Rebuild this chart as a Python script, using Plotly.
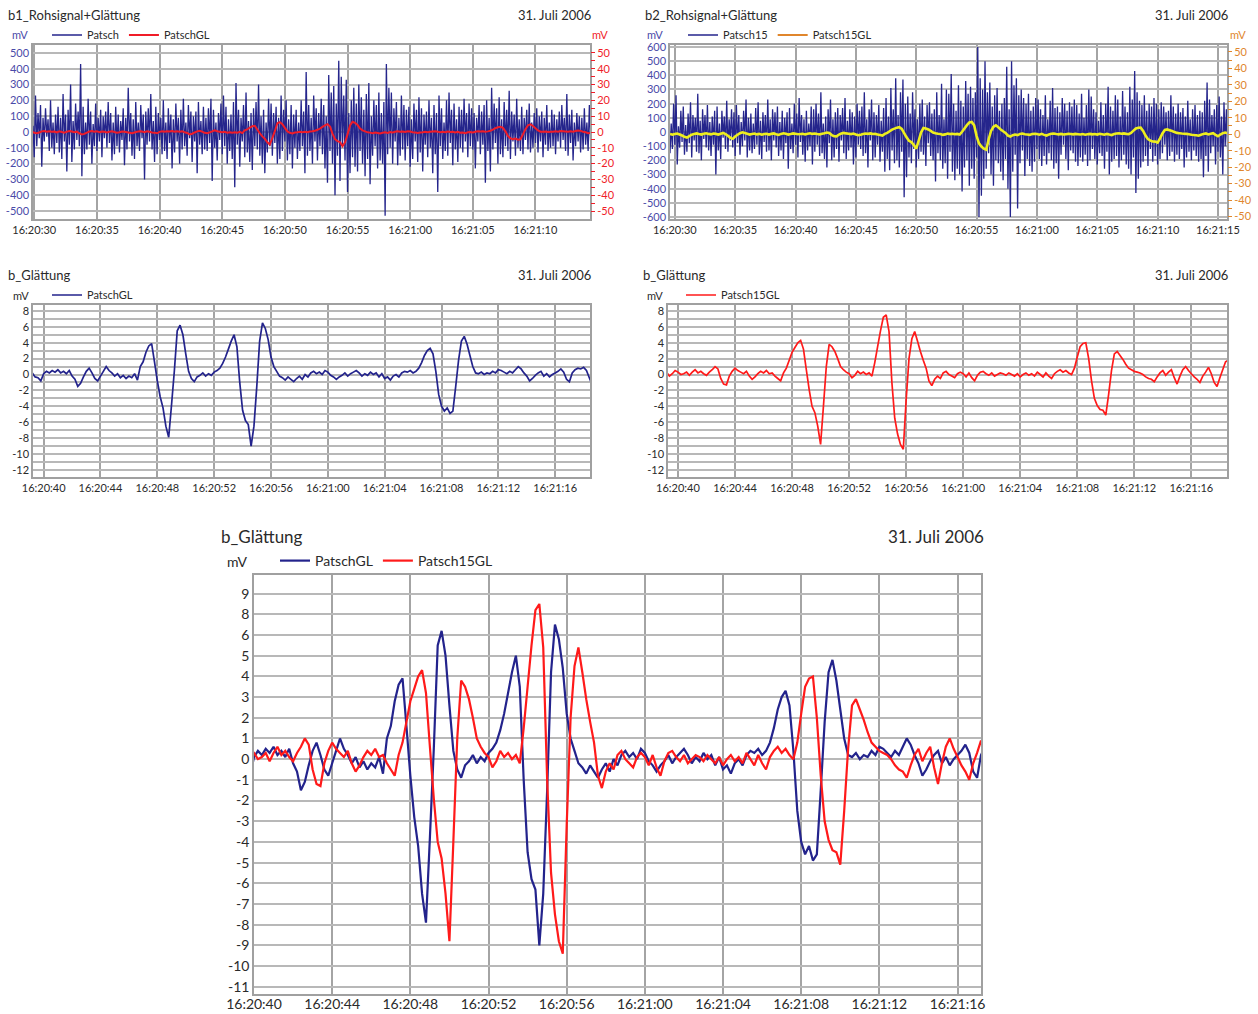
import plotly.graph_objects as go
import pandas as pd

FONT = "Lato"

# ---------------- smoothed data (0.2 s steps) ----------------
GL_START = "2006-07-31 16:20:29.6"
patsch_gl = [
    -0.2, 0.3, -0.5, -0.8, -0.3, 0.4, 0.6, 0.2, 0.5, 0.1,
    0.3, -0.2, 0.4, 0.0, -0.4, 0.2, 0.6, 0.3, -0.1, 0.2,
    -0.8, -1.5, -1.2, -0.4, 0.3, 0.6, 0.2, 0.4, -0.1, 0.3,
    0.1, -0.3, 0.2, 0.5, 0.0, -0.4, -0.2, 0.3, 0.1, -0.2,
    -0.5, -0.8, -0.3, 0.2, 0.5, 0.3, -0.1, 0.4, 0.2, -0.3,
    -0.4, -0.8, 0.1, 0.4, 0.2, 0.5, 0.3, 0.6, 0.2, 0.4,
    0.1, 0.5, -0.2, -0.6, -1.5, -1.1, -0.3, 0.4, 0.8, 0.2,
    -0.5, -0.8, -0.2, 0.4, 1.0, 0.5, 0.2, -0.2, 0.1, -0.4,
    -0.1, -0.5, -0.2, -0.4, 0.1, -0.7, 1.0, 1.6, 2.8, 3.6,
    3.9, 1.6, -0.8, -2.8, -4.2, -6.5, -7.9, -3.8, 0.5, 5.5,
    6.2, 5.0, 2.6, 0.4, -0.5, -0.9, -0.3, -0.1, 0.2, -0.2,
    0.1, -0.1, 0.3, 0.5, 0.8, 1.4, 2.2, 3.2, 4.2, 5.0,
    3.5, -1.0, -4.5, -5.8, -6.3, -9.0, -6.5, -1.5, 4.2, 6.5,
    5.8, 4.4, 2.2, 1.0, 0.4, -0.2, -0.4, -0.7, -0.3, -0.6,
    -0.9, -0.5, -0.2, -0.6, 0.0, -0.3, 0.2, 0.4, 0.1, 0.3,
    0.0, 0.5, 0.3, -0.1, -0.3, -0.6, -0.3, -0.1, 0.2, -0.2,
    0.1, 0.3, 0.5, 0.2, -0.2, 0.1, -0.1, 0.3, 0.0, 0.2,
    -0.3, 0.1, -0.5, -0.3, -0.7, -0.2, 0.0, -0.3, 0.2, 0.4,
    0.3, 0.5, 0.2, 0.4, 0.8, 1.5, 2.4, 3.0, 3.3, 2.6,
    0.4, -2.5, -4.0, -4.6, -4.2, -4.9, -4.6, -1.5, 1.8, 4.2,
    4.8, 3.8, 2.4, 1.0, 0.2, 0.1, 0.3, 0.0, 0.2, 0.1,
    0.4, 0.2, 0.6, 0.5, 0.3, 0.1, 0.4, 0.2, 0.6, 1.0,
    0.7, 0.2, -0.2, -0.8, -0.5, -0.1, 0.2, 0.4, -0.2, 0.1,
    -0.3, 0.0, 0.2, 0.4, 0.7, 0.3, -0.6, -0.9, 0.2, 0.6,
    0.8, 0.7, 0.9, 0.5, -0.4, -1.3,
]
patsch15_gl = [
    0.2, -0.3, 0.1, 0.4, -0.2, -0.8, -1.6, -2.0, -1.1, -0.3,
    0.2, 0.5, 0.1, -0.2, 0.3, 0.6, 0.2, -0.1, 0.4, 0.2,
    -0.2, 0.3, 0.8, 0.1, -0.9, -2.2, -2.8, -1.4, -0.3, 0.6,
    1.2, 0.8, 0.3, -0.2, 0.1, 0.4, -0.1, 0.2, -0.3, 0.1,
    0.3, -0.2, 0.2, 0.5, 0.0, -0.4, 0.2, 0.6, 0.3, -0.2,
    0.1, 0.5, 0.3, 0.0, 0.1, 0.3, -0.1, 0.3, 0.6, 0.2,
    0.4, 0.1, -0.1, 0.3, 0.6, 1.0, 0.7, -0.5, -1.2, -1.3,
    -0.2, 0.4, 0.8, 0.5, 0.3, 0.1, 0.4, -0.2, -0.6, -0.3,
    0.1, 0.4, 0.2, 0.5, 0.1, 0.2, -0.2, -0.5, -0.8, 0.2,
    0.8, 1.8, 2.8, 3.4, 4.0, 4.3, 3.2, 0.6, -1.9, -4.0,
    -4.8, -6.5, -8.8, -4.0, 1.0, 3.8, 3.5, 2.9, 2.0, 1.0,
    0.6, 0.3, 0.1, -0.4, -0.1, 0.4, 0.1, 0.3, 0.0, 0.2,
    -0.2, 1.5, 3.5, 5.5, 7.2, 7.5, 5.4, -1.0, -5.5, -7.5,
    -8.8, -9.4, -3.2, 2.0, 4.5, 5.4, 4.2, 2.9, 1.8, 0.8,
    -0.8, -1.4, -0.6, -0.2, -0.5, 0.2, 0.4, 0.0, -0.2, -0.4,
    0.1, 0.3, 0.1, -0.3, 0.2, -0.4, -0.8, -0.1, 0.3, 0.4,
    0.1, -0.1, 0.2, -0.2, 0.0, 0.2, 0.1, -0.1, 0.2, 0.0,
    -0.2, 0.1, -0.3, 0.0, 0.2, -0.1, 0.1, -0.2, 0.3, 0.0,
    -0.3, 0.2, -0.2, -0.5, 0.1, 0.4, 0.6, 0.3, 0.5, 0.2,
    0.0, 0.8, 2.2, 3.5, 3.9, 4.0, 2.0, -0.8, -3.0, -3.9,
    -4.4, -4.5, -5.1, -2.5, 0.5, 2.6, 2.9, 2.4, 1.9, 1.3,
    0.8, 0.6, 0.4, 0.3, 0.2, 0.0, -0.3, -0.5, -0.6, -0.9,
    -0.3, 0.2, 0.5, -0.1, 0.3, 0.6, -0.4, -1.2, -0.2, 0.6,
    1.0, 0.5, 0.1, -0.3, -0.6, -1.0, -0.2, 0.3, 0.9, 0.1,
    -1.0, -1.5, -0.4, 0.6, 1.6, 1.8,
]

# ---------------- raw data (0.1 s steps) ----------------
RAW1_START = "2006-07-31 16:20:29.9"
patsch_raw = [
    40, -160, 230, -90, 120, -40, 170, -220, 90, -60, 150, -30, 80, -120, 200, -100, 60, -140, 110, -70,
    160, -130, 90, -170, 240, -60, 110, -250, 140, -80, 300, -190, 70, -110, 180, -50, 130, -90, 430, -280,
    160, -140, 60, -110, 210, -80, 130, -200, 50, -90, 180, -120, 90, -60, 140, -160, 100, -40, 130, -100,
    190, -70, 120, -180, 60, -140, 160, -90, 110, -130, 70, -50, 150, -210, 90, -110, 280, -60, 120, -150,
    80, -170, 190, -90, 60, -120, 170, -40, 110, -300, 130, -80, 150, -60, 240, -110, 70, -190, 160, -140,
    120, -50, 90, -140, 200, -120, 60, -170, 150, -70, 110, -230, 80, -130, 180, -60, 90, -200, 140, -110,
    210, -90, 60, -150, 170, -40, 130, -190, 100, -60, 130, -260, 190, -80, 70, -140, 160, -110, 90, -120,
    150, -70, 210, -310, 140, -100, 60, -180, 120, -50, 180, -140, 230, -90, 160, -200, 80, -120, 110, -170,
    190, -350, 310, -80, 140, -220, 90, -60, 170, -160, 250, -130, 70, -190, 120, -240, 150, -90, 190, -110,
    300, -150, 100, -200, 140, -260, 60, -130, 210, -90, 180, -150, 120, -70, 160, -200, 90, -170, 230, -120,
    140, -60, 200, -180, 80, -140, 170, -230, 110, -100, 140, -170, 60, -120, 200, -90, 130, -260, 380, -150,
    170, -120, 90, -200, 230, -60, 150, -180, 120, -90, 210, -140, 170, -230, 100, -320, 360, -120, 250, -200,
    290, -400, 180, -150, 450, -310, 350, -90, 230, -180, 330, -380, 120, -260, 200, -160, 280, -220, 180, -250,
    300, -120, 220, -200, 140, -280, 240, -170, 310, -330, 100, -150, 200, -90, 170, -230, 250, -180, 120, -200,
    190, -530, 430, -140, 280, -100, 250, -200, 150, -60, 190, -210, 90, -150, 230, -110, 170, -180, 140, -90,
    160, -220, 80, -170, 180, -60, 140, -190, 220, -130, 150, -250, 110, -80, 130, -160, 200, -100, 90, -260,
    170, -140, 120, -380, 230, -90, 150, -170, 60, -120, 200, -150, 250, -70, 140, -210, 180, -110, 80, -190,
    160, -100, 140, -130, 210, -60, 120, -160, 180, -90, 150, -110, 120, -230, 90, -60, 170, -140, 130, -80,
    170, -320, 200, -120, 90, -250, 280, -110, 180, -70, 150, -200, 220, -140, 80, -160, 190, -90, 140, -120,
    260, -170, 130, -60, 110, -150, 210, -100, 80, -120, 160, -140, 90, -50, 140, -110, 180, -130, 60, -100,
    120, -70, 150, -130, 100, -60, 130, -160, 90, -80, 170, -120, 60, -100, 140, -90, 110, -140, 80, -60,
    130, -100, 170, -50, 90, -120, 240, -150, 110, -70, 140, -180, 60, -90, 120, -60, 100, -130, 90, -110,
    150, -80, 60, -120, 170, -60,
]
RAW2_START = "2006-07-31 16:20:29.6"
patsch15_raw = [
    -150, 60, -120, 200, -90, 260, -230, 40, -110, 150, -70, 180, -160, 50, -140, 130, -80, 210, -180, 120,
    -60, 100, -140, 270, -150, 80, -200, 160, -50, 120, -110, 190, -130, 70, -170, 110, -90, 150, -300, 180,
    -130, 60, -190, 150, -40, 110, -120, 220, -140, 90, -60, 160, -110, 140, -170, 190, -80, 120, -160, 70,
    -100, 150, -60, 230, -180, 100, -130, 130, -150, 60, -120, 170, -90, 210, -160, 80, -190, 140, -70, 120,
    -140, 230, -130, 90, -200, 160, -60, 140, -110, 180, -170, 70, -130, 150, -190, 100, -80, 140, -260, 170,
    -120, 60, -150, 200, -90, 130, -180, 240, -70, 120, -160, 90, -210, 150, -130, 60, -100, 180, -230, 160,
    -140, 200, -90, 130, -170, 280, -150, 60, -190, 110, -250, 160, -80, 230, -200, 90, -180, 140, -120, 170,
    -210, 120, -60, 170, -150, 240, -190, 80, -130, 160, -110, 140, -230, 110, -180, 200, -90, 150, -120, 180,
    -170, 280, -150, 90, -250, 160, -60, 230, -200, 140, -180, 120, -90, 190, -210, 80, -140, 170, -280, 240,
    -190, 110, -270, 310, -130, 160, -220, 380, -200, 120, -250, 280, -140, 370, -460, 200, -320, 250, -180, 130,
    -220, 280, -120, 160, -250, 90, -190, 200, -140, 230, -160, 110, -240, 190, -80, 210, -170, 130, -200, 160,
    -350, 280, -150, 120, -200, 340, -260, 90, -220, 300, -330, 270, -140, 410, -280, 200, -340, 150, -260, 330,
    -300, 220, -420, 180, -250, 360, -200, 270, -380, 320, -260, 240, -330, 280, -180, 600, -600, 380, -450, 300,
    -330, 500, -260, 280, -150, 350, -300, 180, -380, 260, -200, 310, -220, 150, -280, 200, -340, 240, -190, 460,
    -400, 160, -600, 500, -280, 330, -160, 380, -540, 260, -220, 300, -130, 240, -310, 200, -190, 270, -240, 150,
    -280, 180, -210, 240, -120, 230, -190, 160, -240, 120, -170, 260, -230, 90, -150, 220, -200, 310, -260, 170,
    -220, 180, -330, 140, -160, 240, -90, 200, -190, 150, -270, 210, -130, 180, -150, 230, -210, 190, -240, 130,
    -180, 270, -210, 100, -160, 190, -240, 300, -200, 250, -120, 160, -190, 140, -230, 80, -150, 210, -170, 120,
    -260, 200, -140, 320, -300, 180, -210, 150, -190, 260, -170, 230, -250, 110, -200, 290, -160, 180, -230, 140,
    -260, 320, -300, 230, -180, 430, -430, 280, -330, 220, -250, 190, -210, 260, -170, 150, -240, 200, -120, 180,
    -210, 240, -170, 200, -230, 160, -190, 210, -150, 180, -90, 140, -200, 150, -170, 260, -140, 180, -210, 130,
    -160, 200, -190, 140, -120, 170, -250, 110, -180, 220, -140, 90, -200, 160, -130, 190, -170, 120, -210, 150,
    -190, 140, -320, 220, -170, 350, -280, 230, -150, 120, -100, 160, -230, 190, -140, 250, -180, 110, -300, 210,
    -100, 160, -120,
]

# ---------------- tick values / labels ----------------
top_left_yticks = [-500, -400, -300, -200, -100, 0, 100, 200, 300, 400, 500]
top_right_yticks = [-600, -500, -400, -300, -200, -100, 0, 100, 200, 300, 400, 500, 600]
right_yticks = [-50, -45, -40, -35, -30, -25, -20, -15, -10, -5, 0, 5, 10, 15, 20, 25, 30, 35, 40, 45, 50]
mid_yticks = [-12, -11, -10, -9, -8, -7, -6, -5, -4, -3, -2, -1, 0, 1, 2, 3, 4, 5, 6, 7, 8]
bottom_ytick_vals = [-11, -10, -9, -8, -7, -6, -5, -4, -3, -2, -1, 0, 1, 2, 3, 4, 5, 6, 7, 8]
bottom_ytick_text = ["-11", "-10", "-9", "-8", "-7", "-6", "-5", "-4", "-3", "-2", "-1",
                     "0", "1", "2", "3", "4", "5", "6", "8", "9"]

DATE_TEXT = "31. Juli 2006"


def labels(vals, every):
    return [str(v) if v % every == 0 else "" for v in vals]


def times(start, n, step):
    return pd.date_range(start=start, periods=n, freq=step)


t_gl = times(GL_START, len(patsch_gl), "200ms")
t_raw1 = times(RAW1_START, len(patsch_raw), "100ms")
t_raw2 = times(RAW2_START, len(patsch15_raw), "100ms")

NAVY = "#23238c"
RAWBLUE = "#25258c"
RED = "#f01c28"
RED2 = "#ff1a1a"
YELLOW = "#eeee1e"
ORANGE = "#e0862c"
TICKBLUE = "#4a4aa8"
GRID = "#b8b8b8"
VGRID = "#a4a4a4"
BORDER = "#a0a0a0"
TXT = "#2a2a2a"

W, H = 1258, 1014


def px(x):
    return x / W


def py(y):
    return 1 - y / H


fig = go.Figure()

# top-left
fig.add_trace(go.Scatter(x=t_raw1, y=patsch_raw, mode="lines", name="Patsch",
                         line=dict(color=RAWBLUE, width=1.3, simplify=False),
                         xaxis="x", yaxis="y", legend="legend"))
fig.add_trace(go.Scatter(x=t_gl, y=patsch_gl, mode="lines", name="PatschGL",
                         line=dict(color=RED, width=2, simplify=False),
                         xaxis="x", yaxis="y2", legend="legend"))
# top-right
fig.add_trace(go.Scatter(x=t_raw2, y=patsch15_raw, mode="lines", name="Patsch15",
                         line=dict(color=RAWBLUE, width=1.3, simplify=False),
                         xaxis="x2", yaxis="y3", legend="legend2"))
fig.add_trace(go.Scatter(x=t_gl, y=patsch15_gl, mode="lines", name="Patsch15GL",
                         line=dict(color=YELLOW, width=2.6, simplify=False), xaxis="x2", yaxis="y4",
                         showlegend=False))
fig.add_trace(go.Scatter(x=[None], y=[None], mode="lines", name="Patsch15GL",
                         line=dict(color=ORANGE, width=2), xaxis="x2", yaxis="y4", legend="legend2"))
# middle-left
fig.add_trace(go.Scatter(x=t_gl, y=patsch_gl, mode="lines", name="PatschGL",
                         line=dict(color=NAVY, width=1.7, simplify=False),
                         xaxis="x3", yaxis="y5", legend="legend3"))
# middle-right
fig.add_trace(go.Scatter(x=t_gl, y=patsch15_gl, mode="lines", name="Patsch15GL",
                         line=dict(color=RED2, width=1.7, simplify=False),
                         xaxis="x4", yaxis="y6", legend="legend4"))
# bottom
fig.add_trace(go.Scatter(x=t_gl, y=patsch_gl, mode="lines", name="PatschGL",
                         line=dict(color=NAVY, width=2.2, simplify=False),
                         xaxis="x5", yaxis="y7", legend="legend5"))
fig.add_trace(go.Scatter(x=t_gl, y=patsch15_gl, mode="lines", name="Patsch15GL",
                         line=dict(color=RED2, width=2.2, simplify=False),
                         xaxis="x5", yaxis="y7", legend="legend5"))


def xax(domain, anchor, rng, tick0, dtick, size=11, standoff=0):
    return dict(domain=domain, anchor=anchor, type="date", range=rng, tick0=tick0, dtick=dtick,
                tickformat="%H:%M:%S", showgrid=True, gridcolor=VGRID, gridwidth=1.5,
                showline=True, mirror=True, linecolor=BORDER, linewidth=1.5, ticks="",
                automargin=False, ticklabelstandoff=standoff,
                tickfont=dict(family=FONT, size=size, color=TXT), zeroline=False)


def yax(domain, anchor, rng, vals, text, color=TXT, size=11):
    return dict(domain=domain, anchor=anchor, range=rng, tickmode="array", tickvals=vals,
                ticktext=text, showgrid=True,
                gridcolor=GRID, gridwidth=1.5, showline=True, mirror=True, linecolor=BORDER,
                linewidth=1.5, ticks="", zeroline=False, automargin=False,
                tickfont=dict(family=FONT, size=size, color=color))


def yright(overlay, anchor, rng, color):
    return dict(overlaying=overlay, anchor=anchor, side="right", range=rng, tickmode="array",
                tickvals=right_yticks, ticktext=labels(right_yticks, 10),
                showgrid=False, zeroline=False, showline=False, ticks="outside", ticklen=4,
                tickcolor=color, tickwidth=1, automargin=False,
                tickfont=dict(family=FONT, size=11, color=color))


D = "2006-07-31 "
top_y = [py(219), py(45)]
mid_y = [py(477), py(305)]

layout = dict(
    width=W, height=H, margin=dict(l=0, r=0, t=0, b=0, autoexpand=False),
    paper_bgcolor="white", plot_bgcolor="white",
    font=dict(family=FONT, color=TXT),
    xaxis=xax([px(33), px(590)], "y", [D + "16:20:29.9", D + "16:21:14.35"], D + "16:20:30", 5000),
    yaxis=yax(top_y, "x", [-550, 550], top_left_yticks, labels(top_left_yticks, 100), color=TICKBLUE),
    yaxis2=yright("y", "x", [-55, 55], RED),
    xaxis2=xax([px(670), px(1227)], "y3", [D + "16:20:29.6", D + "16:21:15.75"], D + "16:20:30", 5000),
    yaxis3=yax(top_y, "x2", [-614, 614], top_right_yticks, labels(top_right_yticks, 100),
               color=TICKBLUE),
    yaxis4=yright("y3", "x2", [-51.5, 54.2], ORANGE),
    xaxis3=xax([px(33), px(590)], "y5", [D + "16:20:39.25", D + "16:21:18.45"], D + "16:20:40", 4000),
    yaxis5=yax(mid_y, "x3", [-12.9, 8.75], mid_yticks, labels(mid_yticks, 2)),
    xaxis4=xax([px(668), px(1227)], "y6", [D + "16:20:39.3", D + "16:21:18.5"], D + "16:20:40", 4000),
    yaxis6=yax(mid_y, "x4", [-12.9, 8.75], mid_yticks, labels(mid_yticks, 2)),
    xaxis5=xax([px(254), px(981)], "y7", [D + "16:20:40", D + "16:21:17.2"], D + "16:20:40", 4000,
               size=14, standoff=-4),
    yaxis7=yax([py(994), py(575)], "x5", [-11.35, 8.9], bottom_ytick_vals, bottom_ytick_text,
               size=14),
    showlegend=True,
)


def leg(x, y, size=11):
    return dict(x=px(x), y=py(y), xanchor="left", yanchor="middle", orientation="h",
                bgcolor="rgba(0,0,0,0)", font=dict(family=FONT, size=size, color=TXT),
                itemwidth=30, tracegroupgap=0)


layout["legend"] = leg(47, 35)
layout["legend2"] = leg(683, 35)
layout["legend3"] = leg(47, 295)
layout["legend4"] = leg(681, 295)
layout["legend5"] = leg(275, 561, size=14)

ann = []


def text(x, y, s, size, color=TXT, anchor="left"):
    ann.append(dict(x=px(x), y=py(y), xref="paper", yref="paper", text=s, showarrow=False,
                    xanchor=anchor, yanchor="middle",
                    font=dict(family=FONT, size=size, color=color)))


# titles
text(6, 15, "b1_Rohsignal+Glättung", 13)
text(593, 15, DATE_TEXT, 13, anchor="right")
text(643, 15, "b2_Rohsignal+Glättung", 13)
text(1230, 15, DATE_TEXT, 13, anchor="right")
text(6, 275, "b_Glättung", 13)
text(593, 275, DATE_TEXT, 13, anchor="right")
text(641, 275, "b_Glättung", 13)
text(1230, 275, DATE_TEXT, 13, anchor="right")
text(219, 536, "b_Glättung", 17)
text(986, 536, DATE_TEXT, 17, anchor="right")
# unit labels
text(10, 35, "mV", 11, TICKBLUE)
text(610, 35, "mV", 11, RED, anchor="right")
text(645, 35, "mV", 11, TICKBLUE)
text(1248, 35, "mV", 11, ORANGE, anchor="right")
text(11, 295, "mV", 11)
text(645, 295, "mV", 11)
text(225, 561, "mV", 14)

layout["annotations"] = ann
fig.update_layout(**layout)
# remove the default page margin so the figure fills the window exactly
fig.write_html("out.html", config={"displayModeBar": False},
               post_script="document.body.style.margin='0';")
